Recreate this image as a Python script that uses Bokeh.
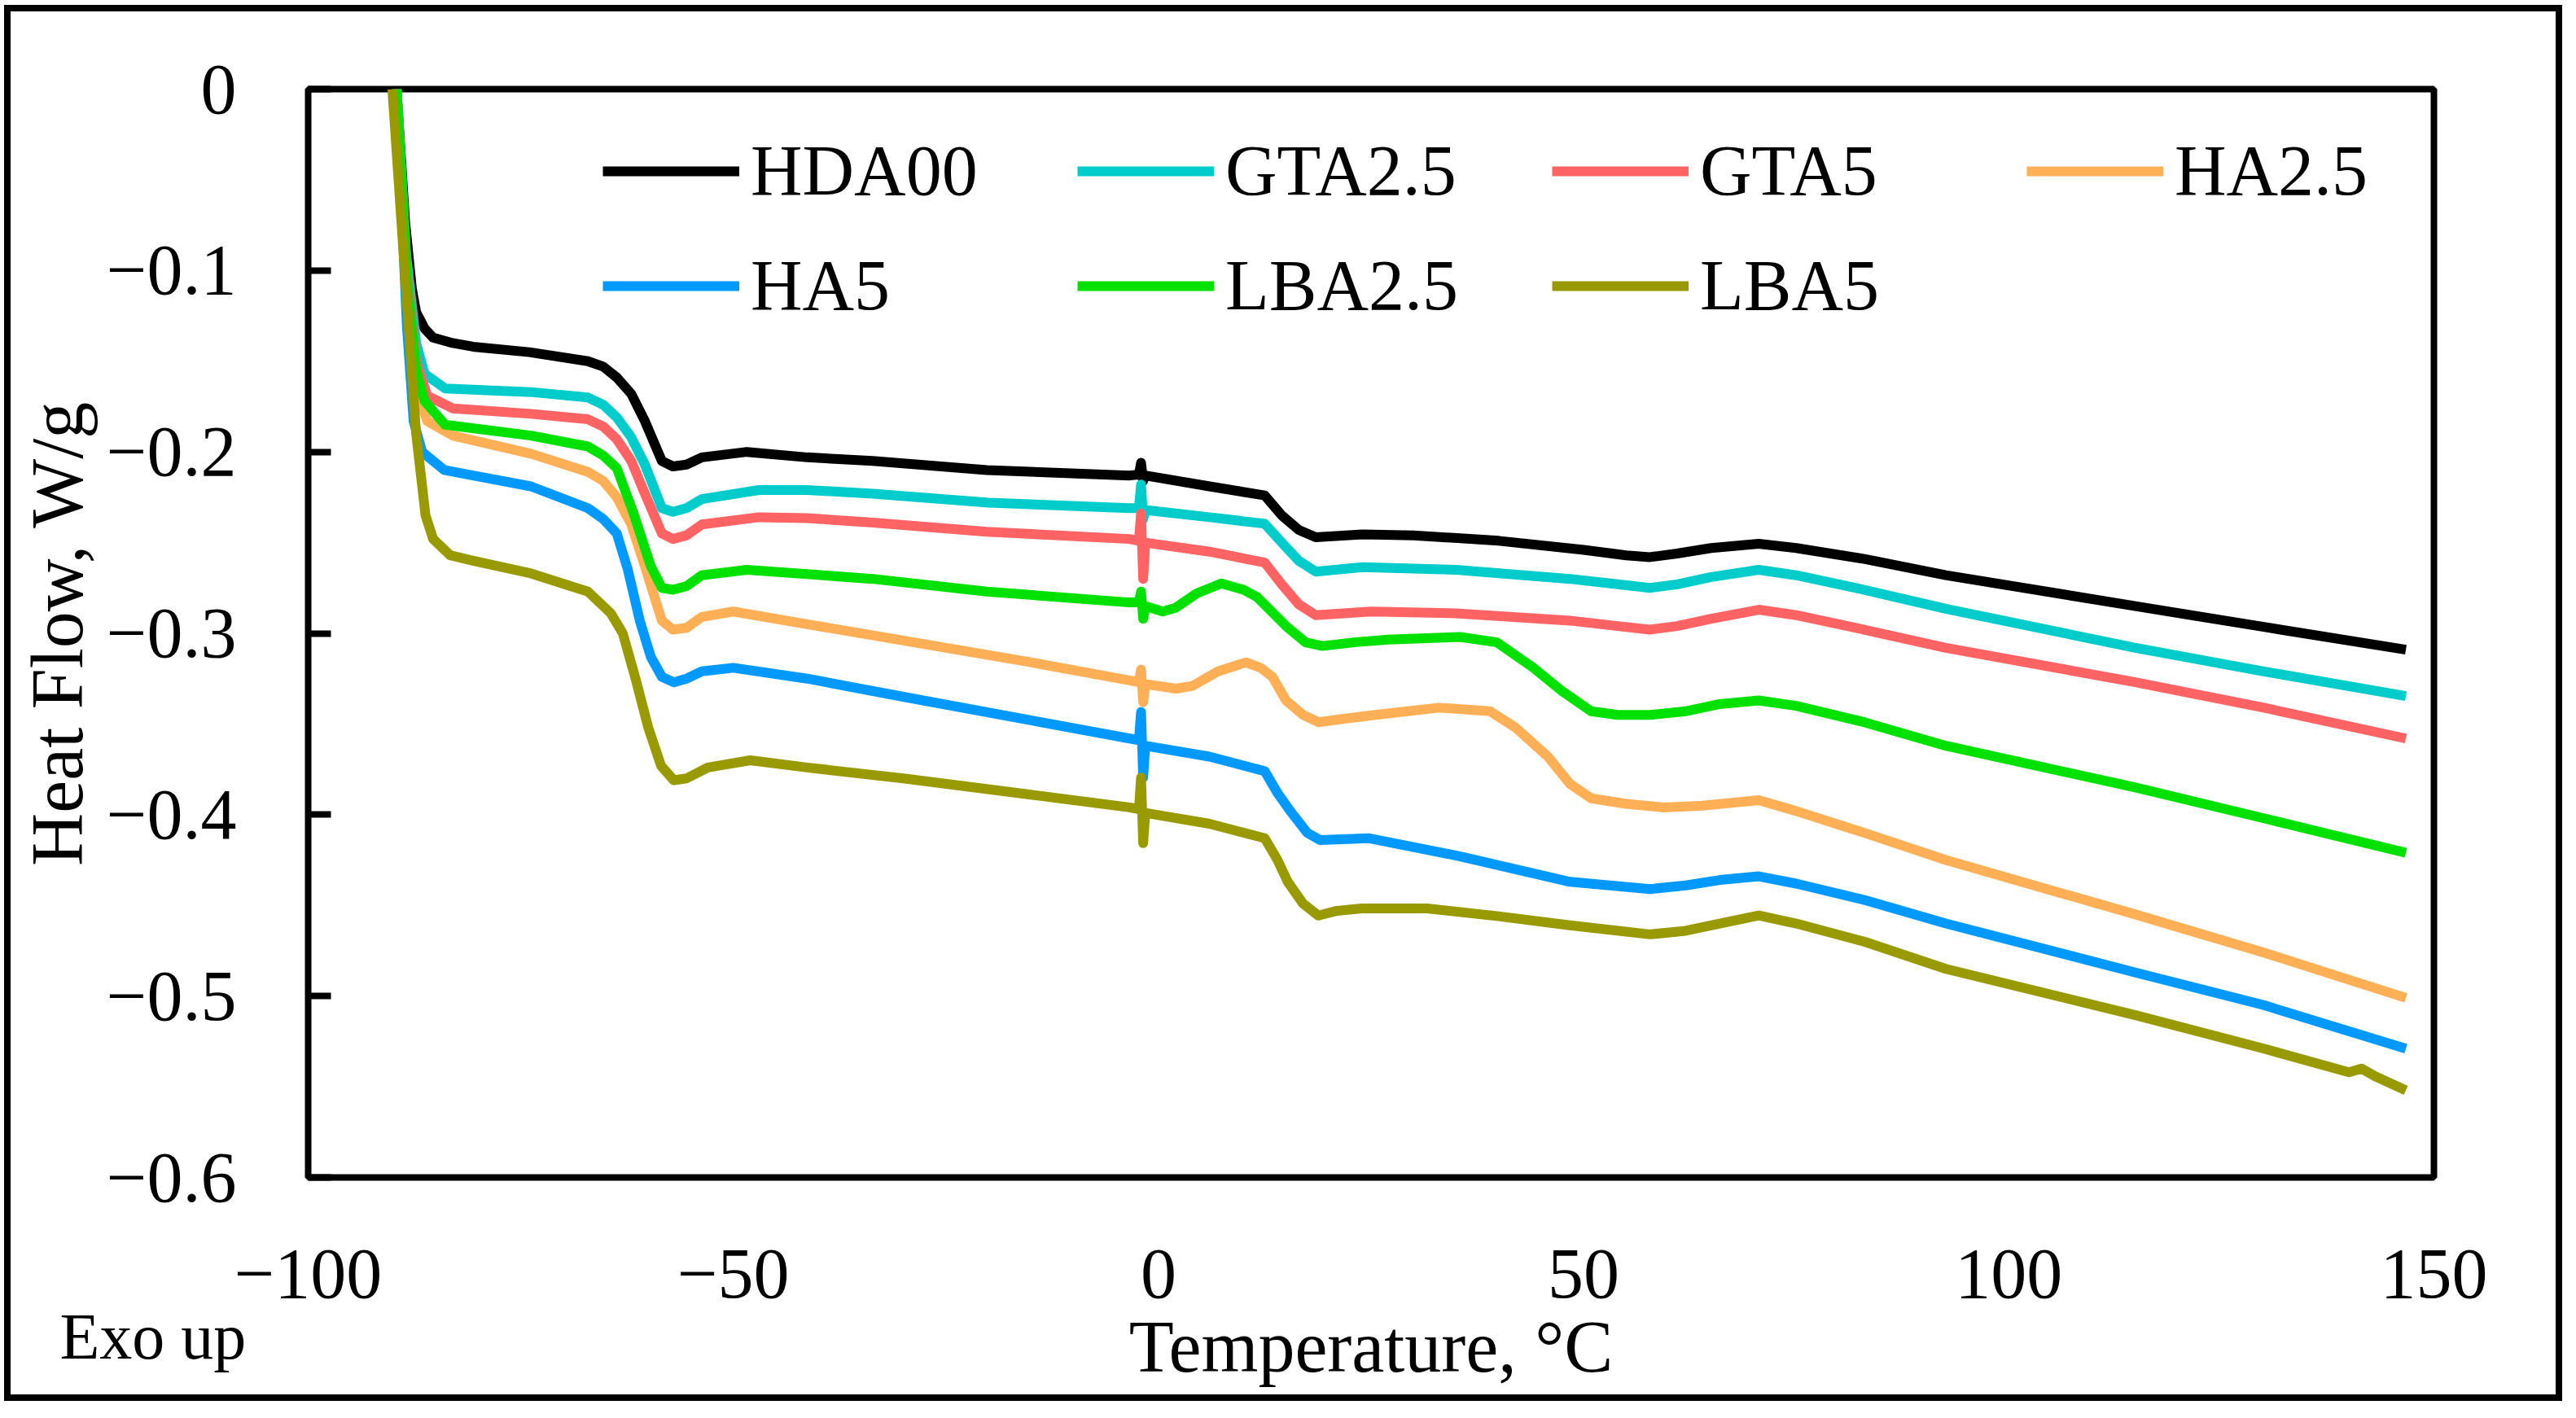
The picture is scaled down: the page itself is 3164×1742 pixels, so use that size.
from bokeh.plotting import figure
from bokeh.models import Range1d, FixedTicker, Legend, LegendItem, Label
from bokeh.embed import file_html
from bokeh.resources import INLINE

# ---------------- data ----------------
series_names = ["HDA00", "GTA2.5", "GTA5", "HA2.5", "HA5", "LBA2.5", "LBA5"]
series_colors = ["#000000", "#00CCCC", "#FF6363", "#FFB057", "#0099FF", "#00E100", "#999900"]

hda00_t = [-89.6, -88.6, -87.8, -87.3, -86.3, -85.3, -83.0, -80.6, -74.0, -67.1, -65.3, -63.7, -62.0,
           -60.4, -58.4, -57.1, -55.5, -53.7, -48.4, -41.3, -33.6, -20.2, -3.4, -2.3, -2.05, -1.8,
           -1.55, 6.0, 12.5, 14.5, 16.5, 18.5, 24.0, 30.0, 40.0, 50.0, 55.0, 57.8, 61.0, 65.0, 70.6,
           75.0, 83.0, 92.6, 114.9, 130.0, 146.7]
hda00_v = [0.0, -0.073, -0.11, -0.123, -0.132, -0.137, -0.140, -0.142, -0.145, -0.150, -0.153, -0.159,
           -0.168, -0.183, -0.205, -0.208, -0.207, -0.203, -0.200, -0.203, -0.205, -0.210, -0.213,
           -0.2125, -0.206, -0.216, -0.213, -0.219, -0.224, -0.235, -0.243, -0.247, -0.2455, -0.246,
           -0.249, -0.254, -0.257, -0.258, -0.256, -0.253, -0.2506, -0.253, -0.259, -0.268, -0.285,
           -0.2965, -0.309]

gta25_t = [-89.6, -88.5, -87.3, -86.3, -83.9, -73.8, -67.1, -65.3, -63.7, -62.0, -60.4, -58.4, -57.1,
           -55.5, -53.7, -47.0, -41.3, -33.6, -20.0, -3.4, -2.3, -2.05, -1.8, -1.55, 6.0, 12.5, 14.5,
           16.5, 18.5, 24.0, 35.0, 48.4, 54.0, 57.8, 61.0, 65.0, 70.6, 75.0, 83.0, 92.6, 114.9,
           130.0, 146.7]
gta25_v = [0.0, -0.09, -0.14, -0.157, -0.165, -0.167, -0.170, -0.174, -0.181, -0.192, -0.207, -0.231,
           -0.233, -0.231, -0.226, -0.221, -0.221, -0.223, -0.228, -0.231, -0.231, -0.218, -0.237,
           -0.232, -0.236, -0.2396, -0.250, -0.260, -0.266, -0.2635, -0.265, -0.270, -0.273, -0.275,
           -0.273, -0.269, -0.265, -0.268, -0.276, -0.2865, -0.308, -0.321, -0.3346]

gta5_t = [-89.6, -88.4, -87.3, -86.0, -83.0, -73.8, -67.1, -65.3, -63.7, -62.0, -60.4, -58.4, -57.1,
          -55.5, -53.7, -47.0, -41.3, -33.6, -20.2, -3.4, -2.3, -2.05, -1.8, -1.55, 6.0, 12.5, 14.5,
          16.5, 18.5, 25.0, 35.0, 48.4, 54.0, 57.8, 61.0, 65.0, 70.6, 75.0, 83.0, 92.6, 114.9,
          130.0, 146.7]
gta5_v = [0.0, -0.10, -0.15, -0.169, -0.176, -0.179, -0.182, -0.186, -0.193, -0.205, -0.223, -0.245,
          -0.248, -0.246, -0.240, -0.236, -0.2365, -0.239, -0.244, -0.248, -0.249, -0.234, -0.270,
          -0.250, -0.255, -0.261, -0.273, -0.284, -0.290, -0.288, -0.289, -0.293, -0.296, -0.298,
          -0.296, -0.292, -0.287, -0.290, -0.298, -0.308, -0.327, -0.341, -0.358]

ha25_t = [-89.6, -88.3, -87.3, -86.0, -83.0, -73.8, -67.1, -65.3, -63.7, -62.0, -60.4, -58.4, -57.1,
          -55.5, -53.7, -50.0, -41.3, -30.0, -15.0, -3.4, -2.3, -2.05, -1.8, -1.55, 2.1, 4.0, 7.0,
          10.3, 12.0, 13.4, 15.0, 17.0, 18.8, 22.0, 25.5, 33.0, 39.0, 42.0, 45.8, 48.4, 50.9, 55.0,
          59.4, 64.0, 70.6, 75.0, 83.0, 92.6, 114.9, 130.0, 146.7]
ha25_v = [0.0, -0.12, -0.165, -0.183, -0.191, -0.201, -0.211, -0.216, -0.225, -0.240, -0.263, -0.293,
          -0.298, -0.297, -0.291, -0.288, -0.295, -0.304, -0.316, -0.326, -0.327, -0.320, -0.338,
          -0.328, -0.3305, -0.329, -0.321, -0.316, -0.319, -0.324, -0.337, -0.345, -0.349, -0.347,
          -0.345, -0.341, -0.343, -0.352, -0.368, -0.383, -0.391, -0.394, -0.396, -0.395, -0.392,
          -0.398, -0.410, -0.425, -0.455, -0.476, -0.501]

ha5_t = [-89.6, -88.4, -87.6, -86.6, -84.0, -80.6, -73.8, -67.1, -65.3, -63.7, -62.4, -61.0, -59.7,
         -58.4, -57.0, -55.5, -53.7, -50.0, -41.3, -30.0, -15.0, -3.4, -2.3, -2.05, -1.8, -1.55, 6.0,
         12.5, 14.0, 15.5, 17.5, 19.0, 24.8, 35.5, 48.4, 57.8, 62.0, 66.0, 70.6, 75.0, 83.0, 92.6,
         114.9, 130.0, 146.7]
ha5_v = [0.0, -0.13, -0.183, -0.200, -0.210, -0.213, -0.219, -0.231, -0.237, -0.245, -0.265, -0.293,
         -0.313, -0.324, -0.327, -0.325, -0.321, -0.319, -0.325, -0.335, -0.348, -0.358, -0.359,
         -0.3434, -0.3795, -0.362, -0.368, -0.376, -0.388, -0.398, -0.410, -0.414, -0.413, -0.423,
         -0.437, -0.441, -0.439, -0.436, -0.434, -0.438, -0.447, -0.460, -0.487, -0.505, -0.529]

lba25_t = [-89.6, -88.3, -87.3, -86.3, -83.9, -73.8, -67.1, -65.3, -63.7, -61.8, -59.7, -58.4, -57.1,
           -55.5, -53.7, -48.4, -41.3, -33.6, -20.2, -3.4, -2.3, -2.05, -1.8, -1.55, 0.5, 2.0, 4.5,
           7.4, 10.0, 11.6, 13.3, 15.0, 17.3, 19.3, 23.0, 27.0, 35.5, 39.8, 44.1, 47.5, 50.9, 54.0,
           57.8, 62.0, 66.0, 70.6, 75.0, 83.0, 92.6, 114.9, 130.0, 146.7]
lba25_v = [0.0, -0.11, -0.155, -0.172, -0.185, -0.191, -0.197, -0.202, -0.209, -0.233, -0.263, -0.275,
           -0.276, -0.274, -0.268, -0.265, -0.2674, -0.270, -0.277, -0.283, -0.283, -0.277, -0.292,
           -0.285, -0.288, -0.286, -0.278, -0.2725, -0.276, -0.280, -0.288, -0.296, -0.305, -0.307,
           -0.305, -0.3035, -0.302, -0.305, -0.319, -0.332, -0.343, -0.345, -0.345, -0.343, -0.339,
           -0.337, -0.340, -0.349, -0.362, -0.385, -0.402, -0.421]

lba5_t = [-90.1, -88.5, -87.3, -86.2, -85.3, -83.3, -80.6, -73.8, -67.1, -64.4, -63.0, -61.5, -60.0,
          -58.5, -57.0, -55.5, -53.0, -48.0, -41.3, -30.0, -15.0, -3.4, -2.3, -2.05, -1.8, -1.55, 6.0,
          12.5, 14.0, 15.2, 17.0, 18.8, 21.0, 23.9, 31.6, 40.0, 48.4, 57.8, 62.0, 66.0, 70.6, 75.0,
          83.0, 92.6, 114.9, 130.0, 140.0, 141.5, 143.0, 146.7]
lba5_v = [0.0, -0.11, -0.19, -0.235, -0.248, -0.257, -0.260, -0.267, -0.277, -0.289, -0.300, -0.325,
          -0.352, -0.373, -0.381, -0.380, -0.374, -0.370, -0.374, -0.380, -0.389, -0.396, -0.397,
          -0.3795, -0.4157, -0.399, -0.405, -0.413, -0.425, -0.437, -0.449, -0.4556, -0.453, -0.4517,
          -0.4517, -0.456, -0.461, -0.466, -0.464, -0.460, -0.4556, -0.460, -0.470, -0.485, -0.5105,
          -0.529, -0.542, -0.540, -0.544, -0.552]

series_t = [hda00_t, gta25_t, gta5_t, ha25_t, ha5_t, lba25_t, lba5_t]
series_v = [hda00_v, gta25_v, gta5_v, ha25_v, ha5_v, lba25_v, lba5_v]

x_ticks = [-100, -50, 0, 50, 100, 150]
x_tick_labels = ["\u2212100", "\u221250", "0", "50", "100", "150"]
y_ticks = [-0.6, -0.5, -0.4, -0.3, -0.2, -0.1, 0]
y_tick_labels = ["\u22120.6", "\u22120.5", "\u22120.4", "\u22120.3", "\u22120.2", "\u22120.1", "0"]

FONT = "Liberation Serif"

# ---------------- figure ----------------
p = figure(width=3126, height=1699, output_backend="svg", toolbar_location=None,
           x_range=Range1d(-100, 150), y_range=Range1d(-0.6, 0))
# outer black frame around the whole picture (drawn by the page, outside the canvas)
p.styles = {"margin-left": "13px", "margin-top": "14px", "outline": "8px solid black"}
p.min_border_left = 365
p.min_border_right = 150
p.min_border_top = 95
p.min_border_bottom = 267
p.background_fill_color = "white"
p.border_fill_color = "white"
p.outline_line_color = "black"
p.outline_line_width = 8
p.xgrid.visible = False
p.ygrid.visible = False

# x axis
xa = p.xaxis[0]
xa.ticker = FixedTicker(ticks=x_ticks)
xa.major_label_overrides = {t: s for t, s in zip(x_ticks, x_tick_labels)}
xa.major_tick_in = 0
xa.major_tick_out = 0
xa.minor_tick_in = 0
xa.minor_tick_out = 0
xa.axis_line_color = None
xa.major_label_standoff = 89
xa.major_label_text_font = FONT
xa.major_label_text_font_size = "88px"
xa.major_label_text_color = "black"
xa.axis_label = "Temperature, \u00b0C"
xa.axis_label_text_font = FONT
xa.axis_label_text_font_size = "90px"
xa.axis_label_text_font_style = "normal"
xa.axis_label_text_color = "black"
xa.axis_label_standoff = 8

# y axis
ya = p.yaxis[0]
ya.ticker = FixedTicker(ticks=y_ticks)
ya.major_label_overrides = {t: s for t, s in zip(y_ticks, y_tick_labels)}
ya.major_tick_in = 28
ya.major_tick_out = 0
ya.major_tick_line_width = 8
ya.major_tick_line_color = "black"
ya.minor_tick_in = 0
ya.minor_tick_out = 0
ya.axis_line_color = None
ya.major_label_standoff = 88
ya.major_label_text_font = FONT
ya.major_label_text_font_size = "88px"
ya.major_label_text_color = "black"
ya.axis_label = "Heat Flow, W/g"
ya.axis_label_text_font = FONT
ya.axis_label_text_font_size = "90px"
ya.axis_label_text_font_style = "normal"
ya.axis_label_text_color = "black"
ya.axis_label_standoff = 8

# lines
items = []
for name, color, tt, vv in zip(series_names, series_colors, series_t, series_v):
    r = p.line(tt, vv, line_color=color, line_width=12, line_join="round")
    items.append(LegendItem(label=name, renderers=[r]))

legend = Legend(items=items, location=(362, 1045), orientation="horizontal", ncols=4,
                glyph_width=168, glyph_height=100, label_height=100, label_width=361,
                label_standoff=14, spacing=40, padding=0, margin=0,
                border_line_color=None, background_fill_alpha=0,
                label_text_font=FONT, label_text_font_size="88px", label_text_color="black")
p.add_layout(legend)

# "Exo up" note, placed in the (unclipped) top side panel and offset down to the bottom-left corner
p.add_layout(Label(x=-305, y=-1532, x_units="screen", y_units="screen", text="Exo up",
                   text_font=FONT, text_font_size="80px", text_baseline="alphabetic",
                   text_align="left", text_color="black"), "above")

open("out.html", "w").write(file_html(p, INLINE))
